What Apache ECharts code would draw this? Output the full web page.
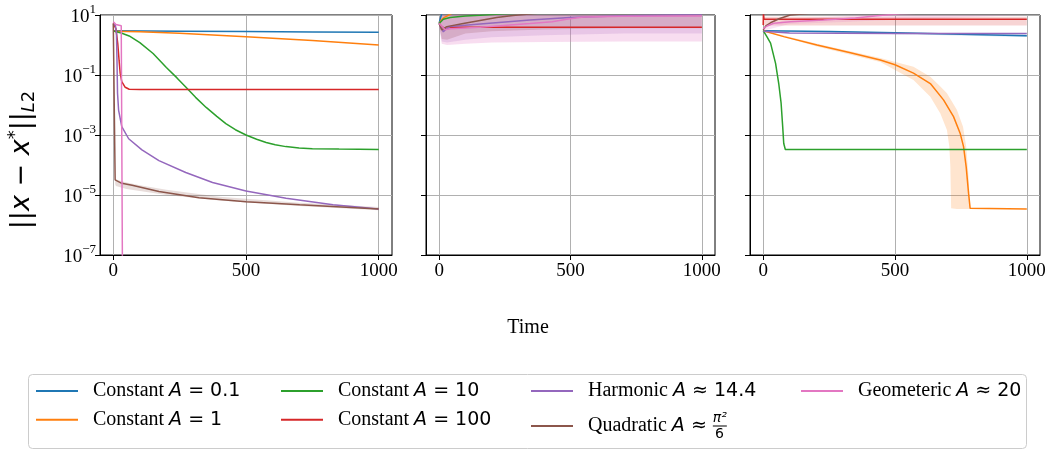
<!DOCTYPE html>
<html>
<head>
<meta charset="utf-8">
<script src="https://cdn.jsdelivr.net/npm/echarts@6/dist/echarts.min.js"></script>
<style>
html, body { margin: 0; padding: 0; background: #fff; }
#main { width: 1048px; height: 451px; }
</style>
</head>
<body>
<div id="main"></div>
<script>
// legend names / colours (matplotlib tab10)
var names = ['Constant A = 0.1', 'Constant A = 1', 'Constant A = 10', 'Constant A = 100',
             'Harmonic A ≈ 14.4', 'Quadratic A ≈ π²/6', 'Geometeric A ≈ 20'];
var colors = ['#1f77b4', '#ff7f0e', '#2ca02c', '#d62728', '#9467bd', '#8c564b', '#e377c2'];
var xTicks = [0, 500, 1000];

// ---- panel 1 : [time, ||x - x*||]
var p1Const01 = [[0, 3.0], [250, 2.9], [500, 2.8], [750, 2.72], [1000, 2.65]];
var p1Const1 = [[0, 2.9], [100, 2.75], [250, 2.45], [500, 1.9], [750, 1.4], [1000, 1.0]];
var p1Const10 = [[0, 2.95], [30, 2.5], [60, 2.0], [100, 1.2], [150, 0.52], [200, 0.178], [240, 0.08],
                 [273, 0.04], [310, 0.018], [350, 0.0083], [390, 0.0042], [424, 0.0024], [460, 0.0015],
                 [500, 0.001], [540, 7.2e-4], [576, 5.6e-4], [610, 4.7e-4], [650, 4.1e-4], [700, 3.7e-4],
                 [750, 3.5e-4], [850, 3.4e-4], [1000, 3.3e-4]];
var p1Const100 = [[0, 5.2], [10, 3.5], [17, 1.1], [22, 0.3], [26, 0.115], [32, 0.06], [45, 0.039],
                  [60, 0.0335], [100, 0.033], [1000, 0.033]];
var p1Harm = [[0, 5.0], [8, 4.5], [12, 2.5], [14, 0.3], [16, 0.025], [20, 0.0068], [32, 0.0019],
              [58, 7.5e-4], [108, 3.2e-4], [172, 1.4e-4], [273, 5.6e-5], [374, 2.6e-5], [500, 1.35e-5],
              [651, 7.8e-6], [828, 4.7e-6], [1000, 3.4e-6]];
var p1Quad = [[0, 5.2], [5, 4.5], [7, 3.2e-5], [10, 3.0e-5], [32, 2.45e-5], [71, 2.1e-5], [172, 1.3e-5],
              [323, 8.1e-6], [500, 6.0e-6], [702, 4.7e-6], [1000, 3.4e-6]];
var p1Geo = [[0, 6.0], [5, 5.5], [10, 4.8], [15, 4.8], [16, 4.4], [30, 4.4], [36, 4.3], [37, 1e-12], [1000, 1e-12]];
var p1QuadBandT = [7, 10, 50, 100, 200, 400, 700, 1000];
var p1QuadBandLo = [2.3e-5, 2.0e-5, 1.6e-5, 1.35e-5, 1.0e-5, 6.5e-6, 4.3e-6, 3.1e-6];
var p1QuadBandHi = [3.3e-5, 3.3e-5, 2.6e-5, 2.1e-5, 1.5e-5, 8.8e-6, 5.5e-6, 4.0e-6];

// ---- panel 2
var p2Const01 = [[0, 5.2], [5, 8], [15, 15], [1000, 50]];
var p2Const1 = [[0, 5.2], [10, 7], [20, 8.3], [33, 9.6], [60, 13], [1000, 30]];
var p2Const10 = [[0, 5.2], [16, 7.2], [42, 8.3], [100, 9.2], [156, 9.8], [250, 11], [1000, 20]];
var p2Const100 = [[0, 5.2], [12, 4.0], [25, 3.4], [40, 3.9], [1000, 3.9]];
var p2Harm = [[0, 5.2], [16, 2.75], [30, 3.6], [42, 4.1], [156, 5.0], [346, 6.8], [498, 8.3], [700, 9.5], [1000, 10.5]];
var p2Quad = [[0, 5.2], [4, 4.7], [10, 3.2], [29, 4.1], [92, 5.2], [219, 8.3], [281, 9.6], [400, 12], [1000, 20]];
var p2Geo = [[0, 5.2], [23, 3.2], [42, 3.5], [156, 3.9], [346, 5.2], [430, 6.0], [485, 7.2], [550, 8.5], [700, 9.0], [1000, 9.3]];
var p2BandT = [0, 10, 30, 100, 200, 400, 700, 1000];
var p2QuadBandLo = [4.5, 1.6, 1.5, 2.4, 2.9, 3.3, 3.6, 3.6];
var p2HarmBandLo = [4.5, 1.3, 1.2, 1.5, 1.8, 2.1, 2.4, 2.4];
var p2GeoBandLo = [4.5, 1.1, 1.0, 1.1, 1.2, 1.25, 1.3, 1.3];
var p2BandHi = [6, 20, 20, 20, 20, 20, 20, 20];

// ---- panel 3
var p3Const01 = [[0, 3.0], [250, 2.8], [500, 2.55], [750, 2.3], [1000, 2.05]];
var p3Const1 = [[0, 3.0], [78, 1.9], [204, 1.0], [331, 0.55], [444, 0.316], [500, 0.22], [570, 0.115],
                [634, 0.052], [684, 0.0148], [722, 0.0041], [747, 0.00115], [760, 4.1e-4], [770, 8.7e-5],
                [779, 1.15e-5], [785, 3.6e-6], [1000, 3.4e-6]];
var p3Const10 = [[0, 3.0], [14, 1.9], [28, 1.15], [47, 0.245], [59, 0.052], [68, 0.0115], [74, 0.0019],
                 [78, 5.2e-4], [84, 3.3e-4], [1000, 3.3e-4]];
var p3Const100 = [[0, 4.6], [1, 12], [3, 7.2], [1000, 7.2]];
var p3Harm = [[0, 2.9], [100, 2.5], [500, 2.42], [1000, 2.4]];
var p3Quad = [[0, 3.2], [10, 4.3], [28, 5.5], [60, 7.5], [103, 10], [300, 14], [1000, 20]];
var p3Geo = [[0, 3.5], [15, 4.3], [40, 5.3], [103, 6.0], [229, 6.8], [350, 8.0], [432, 9.5], [520, 11], [1000, 15]];
var p3Const1BandT = [0, 200, 444, 570, 634, 672, 697, 706, 710, 713, 735, 747, 758, 770, 779, 785, 1000];
var p3Const1BandLo = [2.9, 0.9, 0.27, 0.068, 0.019, 0.0052, 0.00148, 4.1e-4, 8.7e-5, 3.6e-6, 3.4e-6, 3.4e-6,
                      3.4e-6, 3.4e-6, 3.4e-6, 3.4e-6, 3.4e-6];
var p3Const1BandHi = [3.1, 1.12, 0.37, 0.19, 0.087, 0.041, 0.0245, 0.018, 0.016, 0.0145, 0.0068, 0.0035,
                      0.0019, 4.1e-4, 4.1e-5, 3.6e-6, 3.4e-6];
var p3RedBandT = [0, 5, 1000];
var p3RedBandLo = [4.5, 4.5, 4.5];
var p3RedBandHi = [8.8, 8.8, 8.8];
var p3GeoBandT = [0, 100, 300, 500, 1000];
var p3GeoBandLo = [3.0, 5.0, 5.8, 7, 10];
var p3GeoBandHi = [4.0, 7.5, 9, 12, 20];
var p3BlueBandT = [0, 1000];
var p3BlueBandLo = [2.9, 1.85];
var p3BlueBandHi = [3.1, 2.25];

var panels = [
    {lines: [p1Const01, p1Const1, p1Const10, p1Const100, p1Harm, p1Quad, p1Geo],
     bands: [{k: 5, t: p1QuadBandT, lo: p1QuadBandLo, hi: p1QuadBandHi, op: 0.2}]},
    {lines: [p2Const01, p2Const1, p2Const10, p2Const100, p2Harm, p2Quad, p2Geo],
     bands: [{k: 4, t: p2BandT, lo: p2HarmBandLo, hi: p2BandHi, op: 0.2},
             {k: 5, t: p2BandT, lo: p2QuadBandLo, hi: p2BandHi, op: 0.25},
             {k: 6, t: p2BandT, lo: p2GeoBandLo, hi: p2BandHi, op: 0.25}]},
    {lines: [p3Const01, p3Const1, p3Const10, p3Const100, p3Harm, p3Quad, p3Geo],
     bands: [{k: 0, t: p3BlueBandT, lo: p3BlueBandLo, hi: p3BlueBandHi, op: 0.2},
             {k: 1, t: p3Const1BandT, lo: p3Const1BandLo, hi: p3Const1BandHi, op: 0.2},
             {k: 3, t: p3RedBandT, lo: p3RedBandLo, hi: p3RedBandHi, op: 0.2},
             {k: 6, t: p3GeoBandT, lo: p3GeoBandLo, hi: p3GeoBandHi, op: 0.2}]}
];

var gridPos = [[100, 292], [426, 289], [750, 290]];
var serif = 'Liberation Serif';

var myChart = echarts.init(document.getElementById('main'));

// shaded band = polygon (upper curve then lower curve reversed), placed with api.coord
function bandSeries(i, b) {
    return {
        type: 'custom', xAxisIndex: i, yAxisIndex: i, silent: true, z: 1,
        data: [[0, 1]],
        renderItem: function (params, api) {
            var up = b.t.map(function (t, j) { return api.coord([t, b.hi[j]]); });
            var lo = b.t.map(function (t, j) { return api.coord([t, b.lo[j]]); }).reverse();
            var cs = params.coordSys;
            return {
                type: 'polygon',
                shape: {points: up.concat(lo)},
                style: {fill: colors[b.k], opacity: b.op},
                clipPath: {type: 'rect', shape: {x: cs.x, y: cs.y, width: cs.width, height: cs.height}}
            };
        }
    };
}

var grids = [], xAxes = [], yAxes = [], series = [];
panels.forEach(function (p, i) {
    grids.push({
        left: gridPos[i][0], width: gridPos[i][1], top: 15, height: 240,
        show: true, borderColor: '#000', borderWidth: 1, backgroundColor: 'transparent',
        containLabel: false, outerBoundsMode: 'none'
    });
    xAxes.push({
        type: 'value', gridIndex: i, min: -50, max: 1050,
        axisLine: {show: true, onZero: false, lineStyle: {color: '#000'}},
        axisTick: {show: true, length: 5, customValues: xTicks, lineStyle: {color: '#000'}},
        axisLabel: {customValues: xTicks, color: '#000', fontFamily: serif, fontSize: 19, margin: 7,
                    formatter: function (v) { return String(v); }},
        splitLine: {show: true, lineStyle: {color: '#b0b0b0', width: 1}}
    });
    yAxes.push({
        type: 'log', logBase: 10, gridIndex: i, min: 1e-7, max: 10, interval: 2,
        axisLine: {show: true, onZero: false, lineStyle: {color: '#000'}},
        axisTick: {show: true, length: 5, lineStyle: {color: '#000'}},
        axisLabel: {
            show: i === 0, margin: 4, color: '#000',
            formatter: function (v) {
                var e = Math.round(Math.log(v) / Math.LN10);
                return '{b|10}{e|' + (e < 0 ? '\u2212' + (-e) : e) + '}';
            },
            rich: {
                b: {fontFamily: serif, fontSize: 19, lineHeight: 24, verticalAlign: 'bottom', color: '#000'},
                e: {fontFamily: serif, fontSize: 13, lineHeight: 10, verticalAlign: 'top', color: '#000'}
            }
        },
        splitLine: {show: true, lineStyle: {color: '#b0b0b0', width: 1}}
    });
    p.bands.forEach(function (b) { series.push(bandSeries(i, b)); });
    p.lines.forEach(function (d, k) {
        series.push({
            type: 'line', name: names[k], xAxisIndex: i, yAxisIndex: i, data: d,
            symbol: 'none', color: colors[k], lineStyle: {width: 1.5, color: colors[k]}, z: 2, clip: true
        });
    });
});

// legend: one component per entry (matplotlib column layout)
var legendText = {};
legendText[names[0]] = '{sp| }{n|Constant }{a|A}{m| = 0.1}';
legendText[names[1]] = '{sp| }{n|Constant }{a|A}{m| = 1}';
legendText[names[2]] = '{sp| }{n|Constant }{a|A}{m| = 10}';
legendText[names[3]] = '{sp| }{n|Constant }{a|A}{m| = 100}';
legendText[names[4]] = '{sp| }{n|Harmonic }{a|A}{m| ≈ 14.4}';
legendText[names[5]] = '{num|π²}\n{sp2| }{n2|Quadratic }{a2|A}{m2| ≈ }{bar| }\n{den|6}';
legendText[names[6]] = '{sp| }{n|Geometeric }{a|A}{m| ≈ 20}';
var legendRich = {
    sp: {width: 10, lineHeight: 22},
    n: {fontFamily: serif, fontSize: 20, lineHeight: 22, color: '#000'},
    a: {fontFamily: 'DejaVu Sans', fontStyle: 'italic', fontSize: 19, lineHeight: 22, color: '#000'},
    m: {fontFamily: 'DejaVu Sans', fontSize: 19, lineHeight: 22, color: '#000'},
    sp2: {width: 10, lineHeight: 14},
    n2: {fontFamily: serif, fontSize: 20, lineHeight: 14, color: '#000'},
    a2: {fontFamily: 'DejaVu Sans', fontStyle: 'italic', fontSize: 19, lineHeight: 14, color: '#000'},
    m2: {fontFamily: 'DejaVu Sans', fontSize: 19, lineHeight: 14, color: '#000'},
    num: {fontFamily: 'DejaVu Sans', fontStyle: 'italic', fontSize: 14, lineHeight: 2, align: 'right', color: '#000'},
    den: {fontFamily: 'DejaVu Sans', fontSize: 14, lineHeight: 2, align: 'right', padding: [0, 3, 0, 0], color: '#000'},
    bar: {width: 14, height: 1, lineHeight: 1, backgroundColor: '#000'}
};
var legendPos = [[36, 381], [36, 409.7], [281, 381], [281, 409.7], [531, 381], [531, 411], [801, 381]];
var legends = names.map(function (nm, k) {
    return {
        data: [nm], left: legendPos[k][0], top: legendPos[k][1], orient: 'vertical', padding: 0,
        itemWidth: 42, itemHeight: 2, icon: 'rect', selectedMode: false,
        formatter: function (name) { return legendText[name]; },
        textStyle: {rich: legendRich}
    };
});

myChart.setOption({
    animation: false,
    grid: grids,
    xAxis: xAxes,
    yAxis: yAxes,
    legend: legends,
    series: series,
    graphic: [
        {type: 'rect', z: -1, shape: {x: 28.5, y: 374.5, width: 998, height: 74, r: 4},
         style: {fill: '#fff', stroke: '#cccccc', lineWidth: 1}},
        {type: 'text', x: 528, y: 328,
         style: {text: 'Time', font: '20px "Liberation Serif"', fill: '#000', align: 'center', verticalAlign: 'middle'}},
        {type: 'text', x: 22, y: 160, rotation: Math.PI / 2,
         style: {
             text: '{r|||}{i|x}{r| − }{i|x}{sup|*}{r|||}{sub|L}{s2|2}',
             align: 'center', verticalAlign: 'middle',
             rich: {
                 r: {fontFamily: 'DejaVu Sans', fontSize: 27, lineHeight: 32, fill: '#000'},
                 i: {fontFamily: 'DejaVu Sans', fontStyle: 'italic', fontSize: 27, lineHeight: 32, fill: '#000'},
                 sup: {fontFamily: 'DejaVu Sans', fontSize: 18, lineHeight: 12, verticalAlign: 'top', fill: '#000'},
                 sub: {fontFamily: 'DejaVu Sans', fontStyle: 'italic', fontSize: 18, lineHeight: 14, verticalAlign: 'bottom', fill: '#000'},
                 s2: {fontFamily: 'DejaVu Sans', fontSize: 18, lineHeight: 14, verticalAlign: 'bottom', fill: '#000'}
             }
         }}
    ]
});
</script>
</body>
</html>
